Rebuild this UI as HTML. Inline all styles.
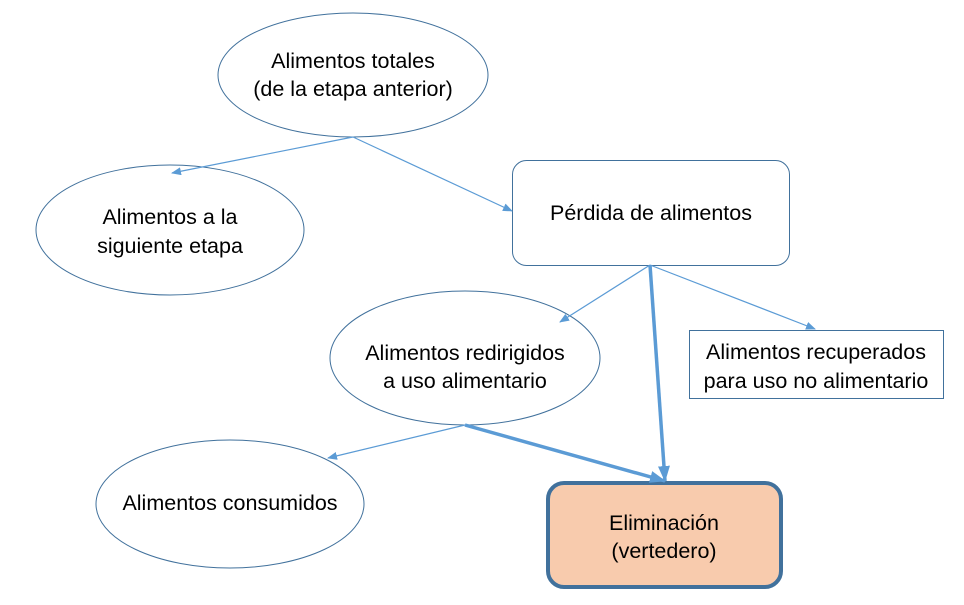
<!DOCTYPE html>
<html><head><meta charset="utf-8"><style>
html,body{margin:0;padding:0;background:#fff;}
svg{display:block;}
text{font-family:"Liberation Sans",sans-serif;font-size:21.5px;fill:#000;text-anchor:middle;}
</style></head><body>
<svg width="964" height="605" viewBox="0 0 964 605" xmlns="http://www.w3.org/2000/svg">
<defs>
<marker id="a" markerWidth="10" markerHeight="8" refX="9" refY="4" orient="auto" markerUnits="userSpaceOnUse"><path d="M0,0 L10,4 L0,8 z" fill="#5b9bd5"/></marker>
<marker id="b" markerWidth="16" markerHeight="12" refX="15" refY="6" orient="auto" markerUnits="userSpaceOnUse"><path d="M0,0 L16,6 L0,12 z" fill="#5b9bd5"/></marker>
</defs>
<g fill="#fff" stroke="#41719c" stroke-width="1">
<ellipse cx="353" cy="75" rx="135" ry="62"/>
<ellipse cx="170" cy="230" rx="134" ry="65"/>
<rect x="512.5" y="160.5" width="277" height="105" rx="14"/>
<ellipse cx="465" cy="358" rx="135" ry="67"/>
<rect x="689.5" y="330.5" width="254" height="68"/>
<ellipse cx="230" cy="504" rx="134" ry="64"/>
</g>
<rect x="548" y="483" width="233" height="104" rx="16" fill="#f8cbad" stroke="#41719c" stroke-width="4"/>
<g stroke="#5b9bd5" stroke-width="1.2" fill="none">
<line x1="353" y1="137" x2="172" y2="173" marker-end="url(#a)"/>
<line x1="353" y1="137" x2="512" y2="211" marker-end="url(#a)"/>
<line x1="650" y1="265" x2="560" y2="322" marker-end="url(#a)"/>
<line x1="650" y1="265" x2="815" y2="329" marker-end="url(#a)"/>
<line x1="465" y1="425" x2="328" y2="458" marker-end="url(#a)"/>
</g>
<g stroke="#5b9bd5" stroke-width="3.5" fill="none">
<line x1="650" y1="265" x2="665" y2="481" marker-end="url(#b)"/>
<line x1="465" y1="425" x2="665" y2="481" marker-end="url(#b)"/>
</g>
<text x="353" y="68">Alimentos totales</text>
<text x="353" y="96">(de la etapa anterior)</text>
<text x="170" y="224">Alimentos a la</text>
<text x="170" y="253">siguiente etapa</text>
<text x="651" y="220">Pérdida de alimentos</text>
<text x="465" y="360">Alimentos redirigidos</text>
<text x="465" y="388">a uso alimentario</text>
<text x="816" y="359">Alimentos recuperados</text>
<text x="816" y="388">para uso no alimentario</text>
<text x="230" y="510">Alimentos consumidos</text>
<text x="664" y="530">Eliminación</text>
<text x="664" y="558">(vertedero)</text>
</svg>
</body></html>
